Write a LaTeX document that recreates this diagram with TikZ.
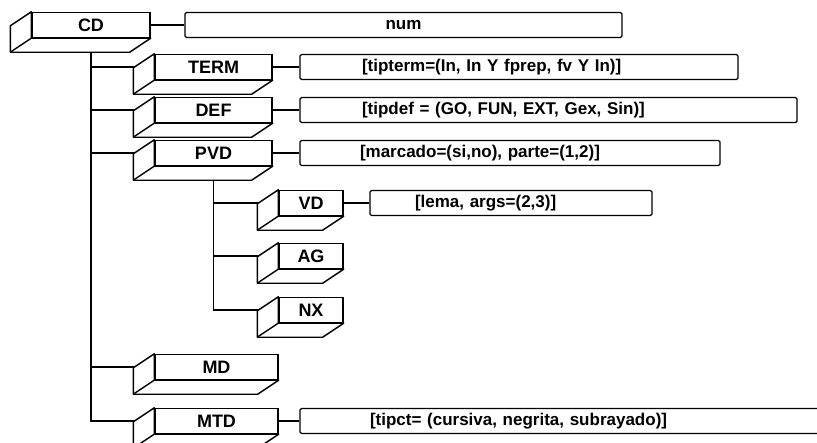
\documentclass[tikz,border=0pt]{standalone}
\usepackage{fontspec}
\setmainfont{Liberation Sans}
\usetikzlibrary{calc}

\begin{document}
\begin{tikzpicture}[x=1pt, y=-1pt,
      caja/.style={draw, line width=1.4pt, fill=white, inner sep=0pt, minimum height=25, font=\fontsize{18}{18}\selectfont\bfseries},
      attr/.style={draw, line width=1.4pt, rounded corners=1.5pt, inner xsep=0pt, minimum height=25, align=left, font=\fontsize{17}{17}\selectfont\bfseries},
      cara/.style={draw, line width=1.4pt, fill=white, line join=round},
      rama/.style={line width=1.3pt}
    ]
    \useasboundingbox (0,0) rectangle (817,442);
    % bloques
    \node[caja, minimum width=118] (cd) at (91,25) {CD};
    \node[caja, minimum width=117] (term) at (213.5,67) {TERM};
    \node[caja, minimum width=117] (def) at (213.5,110) {DEF};
    \node[caja, minimum width=117] (pvd) at (213.5,153) {PVD};
    \node[caja, minimum width=64] (vd) at (311,203) {VD};
    \node[caja, minimum width=64] (ag) at (311,256) {AG};
    \node[caja, minimum width=64] (nx) at (311,310) {NX};
    \node[caja, minimum width=123] (md) at (216.5,367) {MD};
    \node[caja, minimum width=123] (mtd) at (216.5,421) {MTD};
    % atributos
    \node[attr, text width=437, align=center] (num) at (403.5,25) {num};
    \node[attr, text width=438] (tipterm) at (519,67) {\hspace*{62pt}[tipterm=(In, In Y fprep, fv Y In)]};
    \node[attr, text width=497] (tipdef) at (548.5,110) {\hspace*{62pt}[tipdef = (GO, FUN, EXT, Gex, Sin)]};
    \node[attr, text width=420] (marcado) at (510,153) {\hspace*{60pt}[marcado=(si,no), parte=(1,2)]};
    \node[attr, text width=282] (lema) at (511,203) {\hspace*{45pt}[lema, args=(2,3)]};
    \node[attr, text width=520] (tipct) at (560,421) {\hspace*{70pt}[tipct= (cursiva, negrita, subrayado)]};
    % arbol
    \foreach \n in {term,def,pvd,md,mtd}
      \draw[rama] (cd.south) |- (\n.west);
    \foreach \n in {vd,ag,nx}
      \draw[rama] (pvd.south) |- (\n.west);
    \draw[rama] (cd.east) -- (num.west);
    \draw[rama] (term.east) -- (tipterm.west);
    \draw[rama] (def.east) -- (tipdef.west);
    \draw[rama] (pvd.east) -- (marcado.west);
    \draw[rama] (vd.east) -- (lema.west);
    \draw[rama] (mtd.east) -- (tipct.west);
    % caras en perspectiva
    \foreach \n in {cd,term,def,pvd,vd,ag,nx,md,mtd} {
      \draw[cara] (\n.north west) -- ++(-21,14) |- ($(\n.south east)+(-21,14)$) -- (\n.south east) -- (\n.south west) -- cycle;
      \draw[cara] (\n.south west) -- ++(-21,14);
    }
  \end{tikzpicture}
\end{document}
